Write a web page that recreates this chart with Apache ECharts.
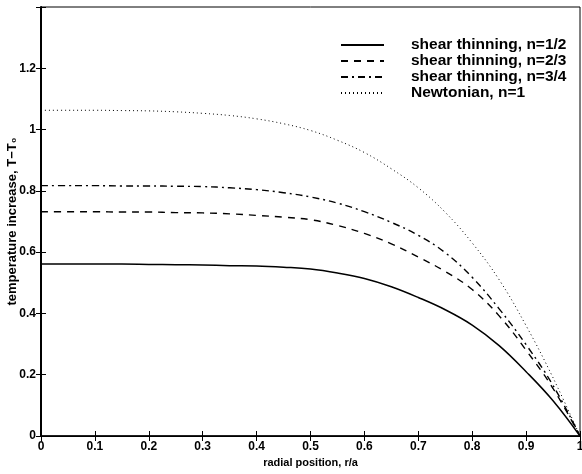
<!DOCTYPE html>
<html>
<head>
<meta charset="utf-8">
<script src="https://cdn.jsdelivr.net/npm/echarts@6/dist/echarts.min.js"></script>
<style>
  html, body { margin: 0; padding: 0; background: #fff; }
  #chart { width: 582px; height: 474px; }
</style>
</head>
<body>
<div id="chart"></div>
<script>
// radial position r/a
var rPos = [0, 0.05, 0.1, 0.15, 0.2, 0.25, 0.3, 0.35, 0.4, 0.45, 0.5, 0.55, 0.6, 0.65, 0.7, 0.75, 0.8, 0.85, 0.9, 0.95, 1];
// temperature increase
var nHalf   = [0.561, 0.561, 0.561, 0.561, 0.560, 0.559, 0.558, 0.556, 0.555, 0.551, 0.545, 0.532, 0.514, 0.487, 0.452, 0.412, 0.362, 0.295, 0.210, 0.115, 0];
var nTwo3   = [0.732, 0.732, 0.732, 0.731, 0.731, 0.729, 0.728, 0.725, 0.720, 0.714, 0.706, 0.687, 0.661, 0.627, 0.584, 0.537, 0.478, 0.392, 0.280, 0.155, 0];
var nThree4 = [0.817, 0.817, 0.817, 0.816, 0.816, 0.815, 0.814, 0.810, 0.804, 0.794, 0.780, 0.760, 0.732, 0.697, 0.655, 0.598, 0.518, 0.415, 0.298, 0.165, 0];
var newton  = [1.063, 1.063, 1.063, 1.062, 1.061, 1.058, 1.053, 1.046, 1.035, 1.019, 0.997, 0.965, 0.925, 0.872, 0.810, 0.730, 0.630, 0.510, 0.360, 0.190, 0];
var names = ['shear thinning, n=1/2', 'shear thinning, n=2/3', 'shear thinning, n=3/4', 'Newtonian, n=1'];

function pairs(ys) {
    return rPos.map(function (x, i) { return [x, ys[i]]; });
}
function fmt(v) { return String(+v.toFixed(1)); }

var myChart = echarts.init(document.getElementById('chart'));
var lab = { color: '#000', fontFamily: 'Liberation Sans', fontWeight: 'bold', fontSize: 12 };

option = {
    animation: false,
    backgroundColor: '#fff',
    grid: { left: 41, right: 2, top: 7, bottom: 38, outerBoundsMode: 'none', containLabel: false,
            show: true, borderColor: '#000', borderWidth: 1 },
    legend: {
        left: 335, top: 32, orient: 'vertical',
        itemWidth: 43, itemHeight: 15.5, itemGap: 0,
        itemStyle: { opacity: 0 },
        textStyle: { color: '#000', fontFamily: 'Liberation Sans', fontWeight: 'bold', fontSize: 15.5,
                     lineHeight: 15.5, padding: [0, 0, 0, 22] },
        data: names
    },
    xAxis: [{
        type: 'value', min: 0, max: 1, interval: 0.1,
        name: 'radial position, r/a', nameLocation: 'middle', nameGap: 21,
        nameTextStyle: { color: '#000', fontFamily: 'Liberation Sans', fontWeight: 'bold', fontSize: 11 },
        axisLine: { lineStyle: { color: '#000', width: 1.5 } },
        axisTick: { inside: true, length: 5, lineStyle: { color: '#000' } },
        axisLabel: Object.assign({ margin: 5, formatter: fmt }, lab),
        splitLine: { show: false }
    }, {
        type: 'value', min: 0, max: 1, interval: 0.1, position: 'top',
        axisLine: { lineStyle: { color: '#000' } },
        axisTick: { inside: true, length: 5, lineStyle: { color: '#000' } },
        axisLabel: { show: false }, splitLine: { show: false }
    }],
    yAxis: [{
        type: 'value', min: 0, max: 1.4, interval: 0.2,
        name: 'temperature increase, T\u2212T\u2080', nameLocation: 'middle', nameGap: 22,
        nameMoveOverlap: false,
        nameTextStyle: { color: '#000', fontFamily: 'Liberation Sans', fontWeight: 'bold', fontSize: 13 },
        axisLine: { lineStyle: { color: '#000', width: 2 } },
        axisTick: { inside: true, length: 5, lineStyle: { color: '#000' } },
        axisLabel: Object.assign({ margin: 5, formatter: function (v) { return v > 1.3 ? '' : fmt(v); } }, lab),
        splitLine: { show: false }
    }, {
        type: 'value', min: 0, max: 1.4, interval: 0.2, position: 'right',
        axisLine: { lineStyle: { color: '#000' } },
        axisTick: { inside: true, length: 5, lineStyle: { color: '#000' } },
        axisLabel: { show: false }, splitLine: { show: false }
    }],
    series: [
        { name: names[0], type: 'line', data: pairs(nHalf), symbol: 'none', smooth: 0.4,
          lineStyle: { color: '#000', width: 1.5, type: 'solid' }, itemStyle: { color: '#000' } },
        { name: names[1], type: 'line', data: pairs(nTwo3), symbol: 'none', smooth: 0.4,
          lineStyle: { color: '#000', width: 1.4, type: [7, 6] }, itemStyle: { color: '#000' } },
        { name: names[2], type: 'line', data: pairs(nThree4), symbol: 'none', smooth: 0.4,
          lineStyle: { color: '#000', width: 1.4, type: [7, 4, 2, 4] }, itemStyle: { color: '#000' } },
        { name: names[3], type: 'line', data: pairs(newton), symbol: 'none', smooth: 0.4,
          lineStyle: { color: '#000', width: 1, type: [1, 3] }, itemStyle: { color: '#000' } }
    ]
};

myChart.setOption(option);
</script>
</body>
</html>
